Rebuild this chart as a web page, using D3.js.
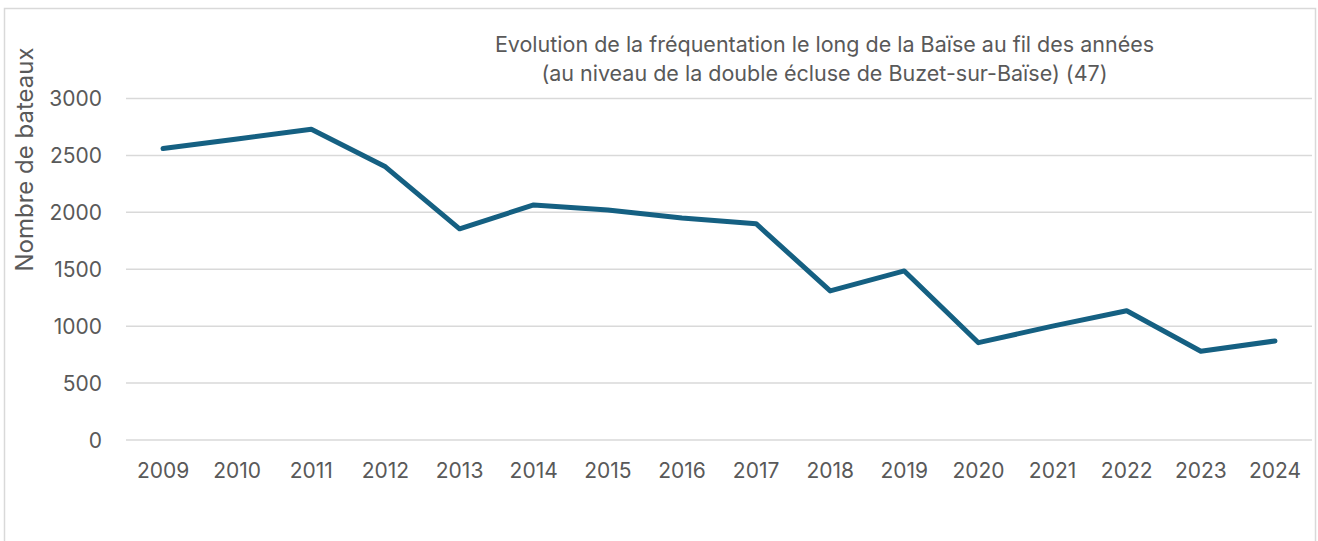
<!DOCTYPE html>
<html>
<head>
<meta charset="utf-8">
<script src="https://cdn.jsdelivr.net/npm/d3@7"></script>
<style>
  html, body { margin: 0; padding: 0; background: #fff; }
  svg { display: block; font-family: Inter, "Open Sans", "Liberation Sans", sans-serif; }
</style>
</head>
<body>
<svg id="chart" width="1318" height="541"></svg>
<script>
const years = ["2009","2010","2011","2012","2013","2014","2015","2016","2017","2018","2019","2020","2021","2022","2023","2024"];
const boats = [2560, 2645, 2730, 2400, 1855, 2065, 2020, 1950, 1900, 1310, 1485, 855, 1000, 1135, 780, 870];
const yTicks = [0, 500, 1000, 1500, 2000, 2500, 3000];
const titleLines = ["Evolution de la fréquentation le long de la Baïse au fil des années",
                    "(au niveau de la double écluse de Buzet-sur-Baïse) (47)"];
const yTitle = "Nombre de bateaux";

const svg = d3.select("#chart");
const textColor = "#595959";

// outer chart border
svg.append("rect")
  .attr("x", 4.5).attr("y", 8.5).attr("width", 1311).attr("height", 545)
  .attr("fill", "#fff").attr("stroke", "#d9d9d9").attr("stroke-width", 1.5);

const x = d3.scaleBand().domain(years).range([126, 1312]);
const y = d3.scaleLinear().domain([0, 3000]).range([440, 98.5]);

// gridlines
svg.append("g").selectAll("line").data(yTicks).join("line")
  .attr("x1", 126).attr("x2", 1312)
  .attr("y1", d => y(d)).attr("y2", d => y(d))
  .attr("stroke", "#d9d9d9").attr("stroke-width", 1.5);

// y axis labels
const yAxis = d3.axisLeft(y).tickValues(yTicks).tickSize(0).tickPadding(0).tickFormat(d3.format("d"));
const gy = svg.append("g").attr("transform", "translate(102,0)").call(yAxis);
gy.select(".domain").remove();
gy.selectAll("text").attr("fill", textColor).style("font-size", "21px")
  .style("font-family", "Inter, 'Open Sans', sans-serif").attr("dy", "0.35em");

// x axis labels
const xAxis = d3.axisBottom(x).tickSize(0).tickPadding(0);
const gx = svg.append("g").attr("transform", "translate(0,440)").call(xAxis);
gx.select(".domain").remove();
gx.selectAll("text").attr("fill", textColor).style("font-size", "21px")
  .style("font-family", "Inter, 'Open Sans', sans-serif").attr("dy", null).attr("y", 38);

// line
const line = d3.line().x((d, i) => x(years[i]) + x.bandwidth() / 2).y(d => y(d));
svg.append("path").datum(boats)
  .attr("d", line).attr("fill", "none")
  .attr("stroke", "#156082").attr("stroke-width", 5)
  .attr("stroke-linejoin", "round").attr("stroke-linecap", "round");

// title
svg.append("text").attr("x", 824.5).attr("y", 51.5).attr("text-anchor", "middle")
  .attr("fill", textColor).style("font-size", "21.5px").text(titleLines[0]);
svg.append("text").attr("x", 824.5).attr("y", 80.5).attr("text-anchor", "middle")
  .attr("fill", textColor).style("font-size", "21.5px").text(titleLines[1]);

// y title
svg.append("text").attr("transform", "translate(33,159.5) rotate(-90)")
  .attr("text-anchor", "middle").attr("fill", textColor).style("font-size", "24px")
  .text(yTitle);
</script>
</body>
</html>
